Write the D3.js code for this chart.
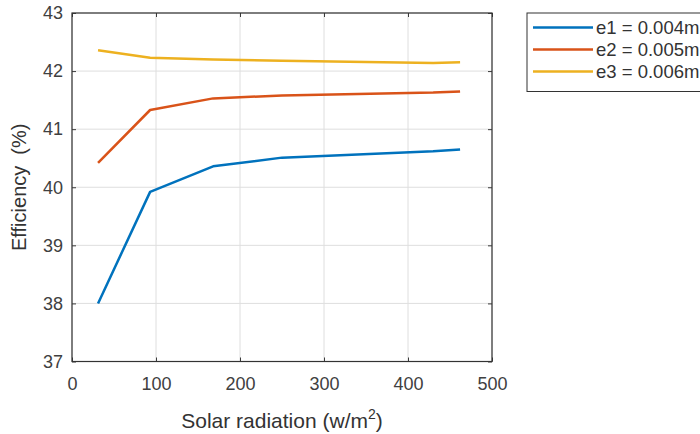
<!DOCTYPE html>
<html>
<head>
<meta charset="utf-8">
<script src="https://cdn.jsdelivr.net/npm/d3@7"></script>
<style>
  body { margin: 0; background: #fff; }
  svg { display: block; font-family: "Liberation Sans", Arial, sans-serif; }
</style>
</head>
<body>
<svg id="chart" width="700" height="434"></svg>
<script>
// solar radiation (w/m2)
var radiation = [31, 93, 168, 250, 430, 462];
// efficiency (%) for each thickness
var effE1 = [38.0, 39.92, 40.36, 40.51, 40.62, 40.65];
var effE2 = [40.42, 41.33, 41.53, 41.58, 41.63, 41.65];
var effE3 = [42.36, 42.23, 42.20, 42.18, 42.14, 42.15];
var seriesNames = ['e1 = 0.004m', 'e2 = 0.005m', 'e3 = 0.006m'];
var xTicks = [0, 100, 200, 300, 400, 500];
var yTicks = [37, 38, 39, 40, 41, 42, 43];

var colors = ['#0072BD', '#D95319', '#EDB120'];
var allSeries = [effE1, effE2, effE3];

var svg = d3.select('#chart');
var plot = { left: 72, right: 492, top: 13, bottom: 361.5 };

var x = d3.scaleLinear().domain([0, 500]).range([plot.left, plot.right]);
var y = d3.scaleLinear().domain([37, 43]).range([plot.bottom, plot.top]);

// grid
svg.append('g')
  .selectAll('line')
  .data(xTicks)
  .enter().append('line')
  .attr('x1', function(d) { return x(d); })
  .attr('x2', function(d) { return x(d); })
  .attr('y1', plot.top).attr('y2', plot.bottom)
  .attr('stroke', '#dedede').attr('stroke-width', 1);
svg.append('g')
  .selectAll('line')
  .data(yTicks)
  .enter().append('line')
  .attr('y1', function(d) { return y(d); })
  .attr('y2', function(d) { return y(d); })
  .attr('x1', plot.left).attr('x2', plot.right)
  .attr('stroke', '#dedede').attr('stroke-width', 1);

// lines
var line = d3.line()
  .x(function(d, i) { return x(radiation[i]); })
  .y(function(d) { return y(d); });

allSeries.forEach(function(s, i) {
  svg.append('path')
    .datum(s)
    .attr('d', line)
    .attr('fill', 'none')
    .attr('stroke', colors[i])
    .attr('stroke-width', 2.5)
    .attr('stroke-linejoin', 'round');
});

// axes, ticks pointing inward on all sides
var tickColor = '#3a3a3a';
function styleAxis(g) {
  g.select('.domain').remove();
  g.selectAll('.tick line').attr('stroke', tickColor);
  g.selectAll('.tick text')
    .attr('fill', '#404040')
    .style('font-size', '18px')
    .style('font-family', '"Liberation Sans", Arial, sans-serif');
}

svg.append('g')
  .attr('transform', 'translate(0,' + plot.bottom + ')')
  .call(d3.axisBottom(x).tickValues(xTicks).tickFormat(d3.format('d')).tickSizeInner(-4).tickPadding(16))
  .call(styleAxis);
svg.append('g')
  .attr('transform', 'translate(0,' + plot.top + ')')
  .call(d3.axisTop(x).tickValues(xTicks).tickSizeInner(-4).tickFormat(''))
  .call(styleAxis);
svg.append('g')
  .attr('transform', 'translate(' + plot.left + ',0)')
  .call(d3.axisLeft(y).tickValues(yTicks).tickFormat(d3.format('d')).tickSizeInner(-4).tickPadding(9))
  .call(styleAxis);
svg.append('g')
  .attr('transform', 'translate(' + plot.right + ',0)')
  .call(d3.axisRight(y).tickValues(yTicks).tickSizeInner(-4).tickFormat(''))
  .call(styleAxis);

svg.append('rect')
  .attr('x', plot.left).attr('y', plot.top)
  .attr('width', plot.right - plot.left).attr('height', plot.bottom - plot.top)
  .attr('fill', 'none').attr('stroke', '#333').attr('stroke-width', 1.2);

// axis labels
var xl = svg.append('text')
  .attr('x', (plot.left + plot.right) / 2)
  .attr('y', 428)
  .attr('text-anchor', 'middle')
  .attr('fill', '#333')
  .style('font-size', '21px');
xl.append('tspan').text('Solar radiation (w/m');
xl.append('tspan').attr('dy', -9).style('font-size', '14px').text('2');
xl.append('tspan').attr('dy', 9).text(')');

svg.append('text')
  .attr('transform', 'translate(26,' + ((plot.top + plot.bottom) / 2) + ') rotate(-90)')
  .attr('text-anchor', 'middle')
  .attr('fill', '#333')
  .style('font-size', '20px')
  .text('Efficiency\u00a0\u00a0(%)');

// legend
var lg = svg.append('g');
lg.append('rect')
  .attr('x', 527).attr('y', 13)
  .attr('width', 190).attr('height', 78.5)
  .attr('fill', '#fff').attr('stroke', '#333').attr('stroke-width', 1);
seriesNames.forEach(function(name, i) {
  var ry = 27.5 + i * 22;
  lg.append('line')
    .attr('x1', 533).attr('x2', 593)
    .attr('y1', ry).attr('y2', ry)
    .attr('stroke', colors[i]).attr('stroke-width', 2.5);
  lg.append('text')
    .attr('x', 596).attr('y', ry + 6.5)
    .attr('fill', '#333')
    .style('font-size', '18.5px')
    .text(name);
});
</script>
</body>
</html>
